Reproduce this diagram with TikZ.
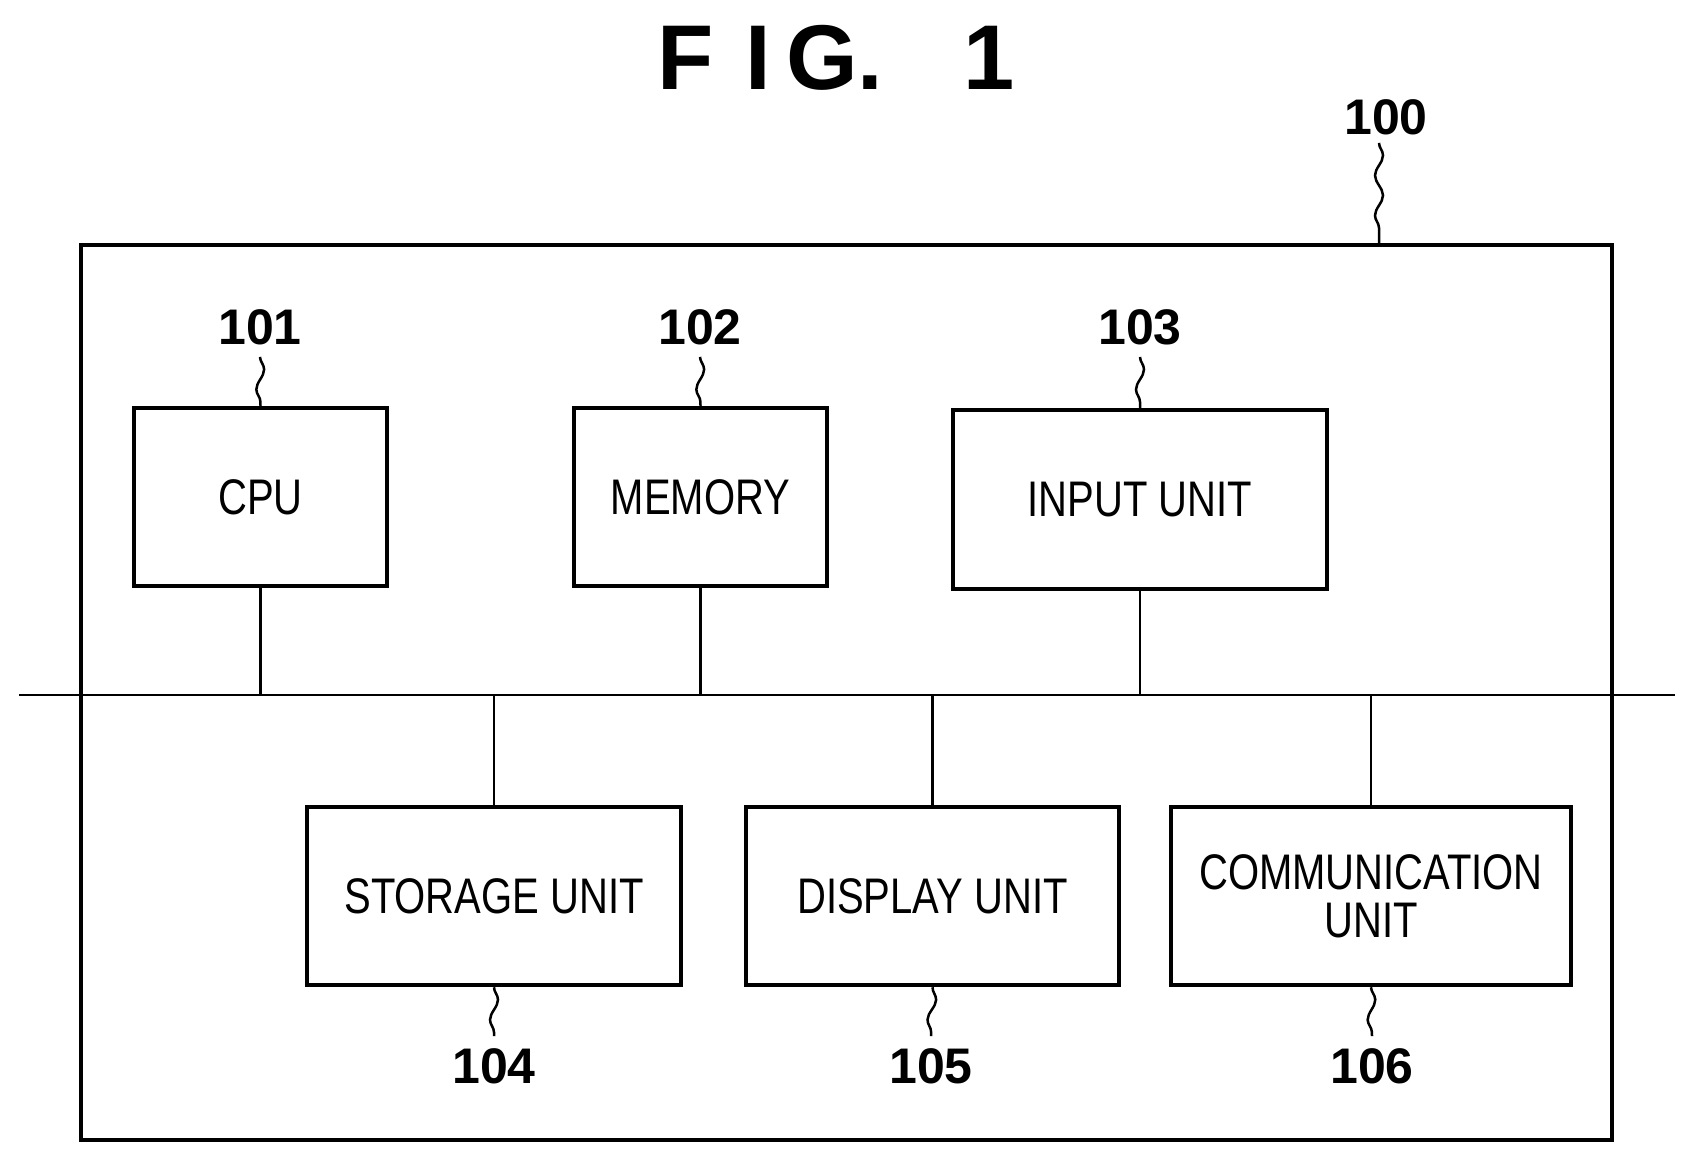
\documentclass[tikz,border=0pt]{standalone}
\usepackage{fontspec}
\setmainfont{Liberation Sans}
\usetikzlibrary{decorations.pathmorphing}
\begin{document}
\begin{tikzpicture}[x=1pt,y=-1pt,
  blk/.style={draw,line width=4.5pt,inner sep=0pt,font=\fontsize{50}{56}\selectfont,align=center},
  num/.style={font=\bfseries\fontsize{50}{56}\selectfont,inner sep=0pt},
  ln/.style={line width=2.5pt},
  sq/.style={line width=2.5pt,decorate,decoration={snake,segment length=40pt,amplitude=4pt}},
  ttl/.style={font=\bfseries\fontsize{92}{100}\selectfont,inner sep=0pt,anchor=base}]
\useasboundingbox (0,0) rectangle (1695,1163);
\node[ttl] (f) at (686,89) {F};
\node[ttl] (i) at (758,89) {I};
\node[ttl] (g) at (822,89) {G};
\node[ttl] (dot) at (870,89) {.};
\node[ttl] (one) at (989,89) {1};
\draw[line width=4.5pt] (81,245) rectangle (1612,1140);
\coordinate (outtop) at (1379,245);
\node[num] (n100) at (1386,117) {100};
\draw[sq] (n100.south) ++(-7,8) coordinate (l100) -- (outtop);
\coordinate (busL) at (19,695);
\coordinate (busR) at (1675,695);
\draw[ln] (busL) -- (busR);
\node[blk,minimum width=253pt,minimum height=178pt] (cpu) at (260.5,497) {\scalebox{0.8}[1]{CPU}};
\node[blk,minimum width=253pt,minimum height=178pt] (mem) at (700.5,497) {\scalebox{0.8}[1]{MEMORY}};
\node[blk,minimum width=374pt,minimum height=179pt] (inp) at (1140,499.5) {\scalebox{0.8}[1]{INPUT UNIT}};
\node[blk,minimum width=374pt,minimum height=178pt] (sto) at (494,896) {\scalebox{0.8}[1]{STORAGE UNIT}};
\node[blk,minimum width=373pt,minimum height=178pt] (dis) at (932.5,896) {\scalebox{0.8}[1]{DISPLAY UNIT}};
\node[blk,minimum width=400pt,minimum height=178pt] (com) at (1371,896) {\scalebox{0.8}[1]{COMMUNICATION}\\[-8pt]\scalebox{0.8}[1]{UNIT}};
\foreach \b in {cpu,mem,inp}{\draw[ln] (\b.south) -- (\b.south |- busL);}
\foreach \b in {sto,dis,com}{\draw[ln] (\b.north) -- (\b.north |- busL);}
\node[num] (n101) at (260,327) {101};
\node[num] (n102) at (700,327) {102};
\node[num] (n103) at (1140,327) {103};
\node[num] (n104) at (494,1066) {104};
\node[num] (n105) at (931,1066) {105};
\node[num] (n106) at (1372,1066) {106};
\foreach \n/\b in {n101/cpu,n102/mem,n103/inp}{\draw[sq] ([yshift=-12pt]\n.south) -- (\b.north);}
\foreach \n/\b in {n104/sto,n105/dis,n106/com}{\draw[sq] (\b.south) -- ([yshift=12pt]\n.north);}
\end{tikzpicture}
\end{document}
